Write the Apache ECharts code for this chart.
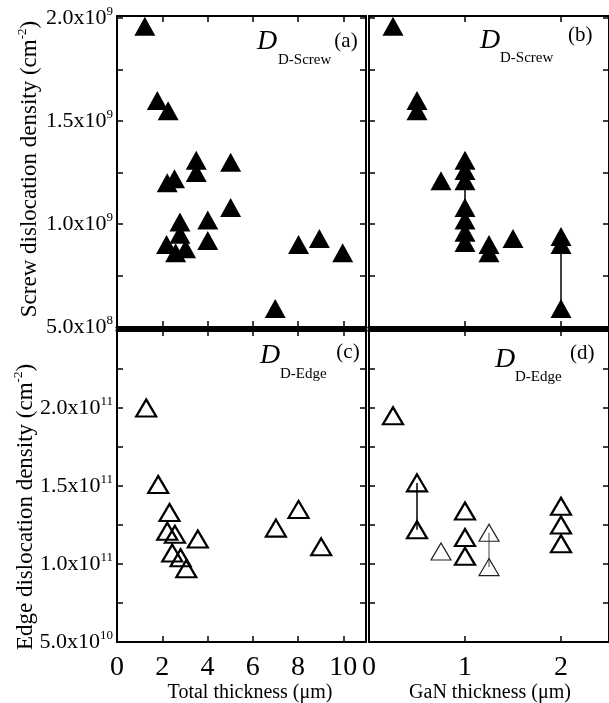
<!DOCTYPE html>
<html>
<head>
<meta charset="utf-8">
<script src="https://cdn.jsdelivr.net/npm/echarts@6/dist/echarts.min.js"></script>
<style>
html, body { margin: 0; padding: 0; background: #fff; }
#chart { width: 609px; height: 703px; }
</style>
</head>
<body>
<div id="chart"></div>
<script>
// (a) screw dislocation density vs total thickness
const totalA = [1.23, 1.78, 2.26, 2.22, 2.54, 3.50, 3.50, 5.02, 5.02, 2.78, 4.01, 4.01, 2.19, 2.78, 3.03, 2.59, 6.99, 8.02, 8.94, 9.97];
const screwA = [1.96e9, 1.60e9, 1.55e9, 1.20e9, 1.22e9, 1.31e9, 1.25e9, 1.30e9, 1.08e9, 1.01e9, 1.02e9, 0.92e9, 0.90e9, 0.95e9, 0.88e9, 0.86e9, 0.59e9, 0.90e9, 0.93e9, 0.86e9];

// (b) screw dislocation density vs GaN thickness
const ganB = [0.25, 0.50, 0.50, 0.75, 1.00, 1.00, 1.00, 1.00, 1.00, 1.00, 1.00, 1.25, 1.25, 1.50, 2.00, 2.00, 2.00];
const screwB = [1.96e9, 1.60e9, 1.55e9, 1.21e9, 1.31e9, 1.26e9, 1.21e9, 1.08e9, 1.02e9, 0.96e9, 0.91e9, 0.90e9, 0.86e9, 0.93e9, 0.94e9, 0.90e9, 0.59e9];
// vertical connectors: [x, from, to]
const screwLinksB = [[1.00, 1.21e9, 1.08e9], [2.00, 0.90e9, 0.59e9]];

// (c) edge dislocation density vs total thickness
const totalC = [1.29, 1.82, 2.32, 2.22, 2.56, 2.44, 2.81, 3.06, 3.57, 7.02, 8.02, 9.02];
const edgeC = [2.00e11, 1.51e11, 1.33e11, 1.21e11, 1.19e11, 1.07e11, 1.04e11, 0.97e11, 1.16e11, 1.23e11, 1.35e11, 1.11e11];

// (d) edge dislocation density vs GaN thickness
const ganD = [0.25, 0.50, 0.50, 1.00, 1.00, 1.00, 2.00, 2.00, 2.00];
const edgeD = [1.95e11, 1.52e11, 1.22e11, 1.34e11, 1.17e11, 1.05e11, 1.37e11, 1.25e11, 1.13e11];
const ganDFaint = [0.75, 1.25, 1.25];
const edgeDFaint = [1.08e11, 1.20e11, 0.98e11];
const edgeLinksD = [[0.50, 1.52e11, 1.22e11]];
const edgeLinksDFaint = [[1.25, 1.20e11, 0.98e11]];

// axis tick labels: [value, mantissa, exponent]
const screwTicks = [[5e8, '5.0', '8'], [1e9, '1.0', '9'], [1.5e9, '1.5', '9'], [2e9, '2.0', '9']];
const edgeTicks = [[5e10, '5.0', '10'], [1e11, '1.0', '11'], [1.5e11, '1.5', '11'], [2e11, '2.0', '11']];
const totalTicks = [0, 2, 4, 6, 8, 10];
const ganTicks = [0, 1, 2];

const FONT = '"Liberation Serif", "Times New Roman", serif';
const BLACK = '#000';

const grids = [
  { left: 117, top: 16, width: 249, height: 311 },
  { left: 369, top: 16, width: 248, height: 311 },
  { left: 117, top: 330, width: 249, height: 312 },
  { left: 369, top: 330, width: 248, height: 312 }
];

function tickStyle() {
  return { show: true, inside: true, length: 6, lineStyle: { color: BLACK, width: 1.5 } };
}

function xPair(gi, max, interval, ticks, showLabels, bottomW, topW) {
  const base = { type: 'value', gridIndex: gi, min: 0, max: max, interval: interval,
    splitLine: { show: false }, axisTick: tickStyle() };
  return [
    Object.assign({}, base, {
      position: 'bottom',
      axisLine: { show: true, onZero: false, lineStyle: { color: BLACK, width: bottomW } },
      axisLabel: { show: showLabels, margin: 12, fontFamily: FONT, fontSize: 28, color: BLACK,
        showMaxLabel: false,
        formatter: v => ticks.some(t => Math.abs(t - v) < 1e-6) ? String(v) : '' }
    }),
    Object.assign({}, base, {
      position: 'top',
      axisLine: { show: true, onZero: false, lineStyle: { color: BLACK, width: topW } },
      axisLabel: { show: false }
    })
  ];
}

function yPair(gi, min, max, interval, ticks, showLabels, leftW, rightW) {
  const base = { type: 'value', gridIndex: gi, min: min, max: max, interval: interval,
    splitLine: { show: false }, axisTick: tickStyle() };
  return [
    Object.assign({}, base, {
      position: 'left',
      axisLine: { show: true, onZero: false, lineStyle: { color: BLACK, width: leftW } },
      axisLabel: {
        show: showLabels, margin: 4, color: BLACK, showMaxLabel: false,
        formatter: v => {
          const t = ticks.find(k => Math.abs(k[0] - v) < interval * 1e-3);
          return t ? '{b|' + t[1] + 'x10}{s|' + t[2] + '}' : '';
        },
        rich: {
          b: { fontFamily: FONT, fontSize: 22, color: BLACK, lineHeight: 25 },
          s: { fontFamily: FONT, fontSize: 13, color: BLACK, verticalAlign: 'top', lineHeight: 13 }
        }
      }
    }),
    Object.assign({}, base, {
      position: 'right',
      axisLine: { show: true, onZero: false, lineStyle: { color: BLACK, width: rightW } },
      axisLabel: { show: false }
    })
  ];
}

const xAxes = [].concat(
  xPair(0, 11, 2, totalTicks, false, 3, 2),
  xPair(1, 2.5, 1, ganTicks, false, 3, 2),
  xPair(2, 11, 2, totalTicks, true, 2, 3),
  xPair(3, 2.5, 1, ganTicks, true, 2, 3)
);
const yAxes = [].concat(
  yPair(0, 5e8, 2.01e9, 2.5e8, screwTicks, true, 2, 2),
  yPair(1, 5e8, 2.01e9, 2.5e8, screwTicks, false, 2, 2),
  yPair(2, 5e10, 2.5e11, 2.5e10, edgeTicks, true, 2, 2),
  yPair(3, 5e10, 2.5e11, 2.5e10, edgeTicks, false, 2, 2)
);

function zip(xs, ys) { return xs.map((x, i) => [x, ys[i]]); }

function filled(axis, xs, ys) {
  return { type: 'scatter', xAxisIndex: axis * 2, yAxisIndex: axis * 2, z: 3,
    symbol: 'triangle', symbolSize: [21, 19], itemStyle: { color: BLACK, opacity: 1 },
    data: zip(xs, ys) };
}
function hollow(axis, xs, ys, w, col) {
  return { type: 'scatter', xAxisIndex: axis * 2, yAxisIndex: axis * 2, z: 3,
    symbol: 'triangle', symbolSize: [20, 17],
    itemStyle: { color: 'rgba(255,255,255,0)', borderColor: col, borderWidth: w, opacity: 1 },
    data: zip(xs, ys) };
}
function links(axis, list, w, col) {
  return list.map(l => ({ type: 'line', xAxisIndex: axis * 2, yAxisIndex: axis * 2, z: 2,
    symbol: 'none', lineStyle: { color: col, width: w, opacity: 1 }, data: [[l[0], l[1]], [l[0], l[2]]] }));
}

const series = [].concat(
  [filled(0, totalA, screwA)],
  links(1, screwLinksB, 1.5, BLACK),
  [filled(1, ganB, screwB)],
  [hollow(2, totalC, edgeC, 2.2, BLACK)],
  links(3, edgeLinksD, 1.5, BLACK),
  links(3, edgeLinksDFaint, 1, '#444'),
  [hollow(3, ganD, edgeD, 2.2, BLACK)],
  [hollow(3, ganDFaint, edgeDFaint, 1.2, '#222')]
);

function txt(x, y, text, size, opts) {
  opts = opts || {};
  return {
    type: 'text', x: x, y: y, rotation: opts.rotation || 0, silent: true, z: 10,
    style: Object.assign({
      text: text, fill: BLACK,
      font: (opts.italic ? 'italic ' : '') + size + 'px ' + FONT,
      align: opts.align || 'center', verticalAlign: 'middle',
      textAlign: opts.align || 'center', textVerticalAlign: 'middle'
    }, opts.rich ? { rich: opts.rich } : {})
  };
}

const nameRich = {
  n: { fontFamily: FONT, fontSize: 23, color: BLACK, lineHeight: 27 },
  s: { fontFamily: FONT, fontSize: 13, color: BLACK, verticalAlign: 'top', lineHeight: 13 }
};

const graphics = [
  // panel titles
  txt(267, 42, 'D', 28, { italic: true }),
  txt(278, 60, 'D-Screw', 15, { align: 'left' }),
  txt(346, 41, '(a)', 21),
  txt(490, 41, 'D', 28, { italic: true }),
  txt(500, 58, 'D-Screw', 15, { align: 'left' }),
  txt(568, 35, '(b)', 21, { align: 'left' }),
  txt(270, 356, 'D', 28, { italic: true }),
  txt(280, 374, 'D-Edge', 15, { align: 'left' }),
  txt(348, 352, '(c)', 21),
  txt(505, 360, 'D', 28, { italic: true }),
  txt(515, 377, 'D-Edge', 15, { align: 'left' }),
  txt(570, 353, '(d)', 21, { align: 'left' }),
  // axis titles
  txt(30, 169, '{n|Screw dislocation density (cm}{s|-2}{n|)}', 23, { rotation: Math.PI / 2, rich: nameRich }),
  txt(26, 507, '{n|Edge dislocation density (cm}{s|-2}{n|)}', 23, { rotation: Math.PI / 2, rich: nameRich }),
  txt(250, 693, 'Total thickness (\u03bcm)', 20),
  txt(490, 693, 'GaN thickness (\u03bcm)', 20)
];

const chart = echarts.init(document.getElementById('chart'), null, { renderer: 'canvas' });
chart.setOption({
  animation: false,
  backgroundColor: '#fff',
  grid: grids,
  xAxis: xAxes,
  yAxis: yAxes,
  series: series,
  graphic: graphics
});
</script>
</body>
</html>
